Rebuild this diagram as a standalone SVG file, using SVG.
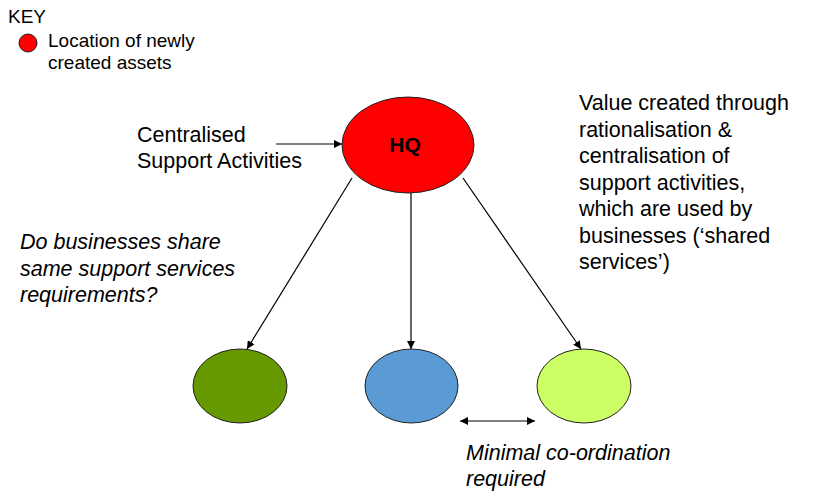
<svg xmlns="http://www.w3.org/2000/svg" width="814" height="492" viewBox="0 0 814 492">
<style>
text{font-family:"Liberation Sans",Arial,sans-serif;fill:#000}
.t{font-size:21.5px}
.k{font-size:19px}
.i{font-size:21.5px;font-style:italic}
.n{stroke:#222;stroke-width:1}
.c{stroke:#000;stroke-width:1.2;fill:none}
</style>
<defs>
<marker id="ah" viewBox="0 0 10 10" refX="10" refY="5" markerWidth="8" markerHeight="8" markerUnits="userSpaceOnUse" orient="auto-start-reverse">
<path d="M0,0 L10,5 L0,10 z" fill="#000"/>
</marker>
</defs>
<rect width="814" height="492" fill="#fff"/>
<g id="key">
<text class="k" x="8" y="23">KEY</text>
<circle cx="28" cy="43" r="9" fill="#f00" stroke="#222" stroke-width="1"/>
<text class="k" x="48" y="47">Location of newly</text>
<text class="k" x="48" y="69">created assets</text>
</g>
<g id="hq">
<ellipse class="n" cx="408" cy="145" rx="66" ry="48" fill="#f00"/>
<text x="405" y="152" font-size="21" font-weight="bold" text-anchor="middle">HQ</text>
</g>
<g id="biz1"><ellipse class="n" cx="240" cy="386" rx="47" ry="37" fill="#669900"/></g>
<g id="biz2"><ellipse class="n" cx="411.5" cy="386" rx="46.5" ry="37" fill="#5b9bd5"/></g>
<g id="biz3"><ellipse class="n" cx="584" cy="386" rx="47" ry="37" fill="#ccff66"/></g>
<g id="connectors">
<line class="c" x1="276" y1="144" x2="342" y2="144" marker-end="url(#ah)"/>
<line class="c" x1="352" y1="178" x2="247" y2="349" marker-end="url(#ah)"/>
<line class="c" x1="411" y1="193" x2="411" y2="349" marker-end="url(#ah)"/>
<line class="c" x1="463" y1="178" x2="581" y2="349" marker-end="url(#ah)"/>
<line class="c" x1="460" y1="421" x2="535" y2="421" marker-start="url(#ah)" marker-end="url(#ah)"/>
</g>
<g id="labels">
<text class="t" x="137" y="142">Centralised</text>
<text class="t" x="137" y="168">Support Activities</text>
<text class="i" x="20" y="249">Do businesses share</text>
<text class="i" x="20" y="276">same support services</text>
<text class="i" x="20" y="302">requirements?</text>
<text class="t" x="579" y="110">Value created through</text>
<text class="t" x="579" y="137">rationalisation &amp;</text>
<text class="t" x="579" y="163">centralisation of</text>
<text class="t" x="579" y="190">support activities,</text>
<text class="t" x="579" y="216">which are used by</text>
<text class="t" x="579" y="243">businesses (‘shared</text>
<text class="t" x="579" y="269">services’)</text>
<text class="i" x="466" y="460">Minimal co-ordination</text>
<text class="i" x="466" y="486">required</text>
</g>
</svg>
